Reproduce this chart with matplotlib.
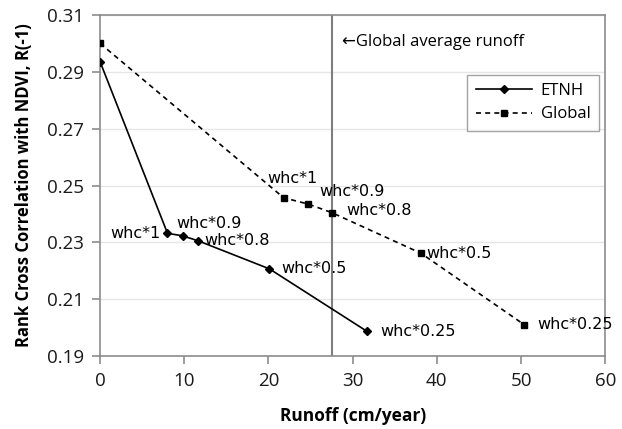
import matplotlib
matplotlib.use("Agg")
import matplotlib.pyplot as plt

# Runoff (cm/year) and rank cross correlation for each water-holding-capacity scaling
etnh_runoff = [0.0, 8.0, 9.8, 11.6, 20.1, 31.7]
etnh_corr = [0.2935, 0.2332, 0.2323, 0.2306, 0.2207, 0.1987]
etnh_labels = [None, "whc*1", "whc*0.9", "whc*0.8", "whc*0.5", "whc*0.25"]

global_runoff = [0.0, 21.8, 24.7, 27.5, 38.1, 50.4]
global_corr = [0.3000, 0.2457, 0.2435, 0.2405, 0.2262, 0.2010]
global_labels = [None, "whc*1", "whc*0.9", "whc*0.8", "whc*0.5", "whc*0.25"]

global_avg_runoff = 27.6

x_ticks = [0, 10, 20, 30, 40, 50, 60]
y_ticks = [0.19, 0.21, 0.23, 0.25, 0.27, 0.29, 0.31]

# label offsets in pixels relative to each point, and horizontal alignment
etnh_offsets = [None, (-7, 0, "right"), (-6, 12, "left"), (7, 0, "left"),
                (12, 0, "left"), (13, 0, "left")]
global_offsets = [None, (-16, 19, "left"), (11, 13, "left"), (15, 2, "left"),
                  (5, 0, "left"), (13, 0, "left")]

fam = ["Open Sans", "DejaVu Sans"]

fig = plt.figure(figsize=(6.22, 4.29), dpi=100)
ax = fig.add_axes([0.161, 0.170, 0.812, 0.795])

ax.set_xlim(0, 60)
ax.set_ylim(0.19, 0.31)
ax.set_xticks(x_ticks)
ax.set_yticks(y_ticks)
ax.set_xticklabels([str(t) for t in x_ticks], family=fam, fontsize=13.5)
ax.set_yticklabels([f"{t:.2f}" for t in y_ticks], family=fam, fontsize=13.5)
ax.yaxis.grid(True, color="#e6e6e6", linewidth=1)
ax.set_axisbelow(True)
for s in ax.spines.values():
    s.set_color("#8c8c8c")
    s.set_linewidth(1.2)
ax.tick_params(axis="both", direction="out", length=5.5, color="#8c8c8c", width=1.2,
               labelcolor="#1a1a1a")
ax.tick_params(axis="x", pad=6)
ax.tick_params(axis="y", pad=6)

ax.axvline(global_avg_runoff, color="#7f7f7f", linewidth=1.5, zorder=1)
ax.annotate("\u2190Global average runoff", xy=(global_avg_runoff, 0.3006),
            xytext=(10, 0), textcoords="offset pixels", va="center", ha="left",
            family=fam, fontsize=12)

ax.plot(etnh_runoff, etnh_corr, color="black", linewidth=1.2, marker="D",
        markersize=4, label="ETNH", zorder=3)
ax.plot(global_runoff, global_corr, color="black", linewidth=1.2, linestyle=(0, (3, 2.5)),
        marker="s", markersize=5, label="Global", zorder=3)

for xs, ys, labs, offs in [(etnh_runoff, etnh_corr, etnh_labels, etnh_offsets),
                           (global_runoff, global_corr, global_labels, global_offsets)]:
    for x, y, lab, off in zip(xs, ys, labs, offs):
        if lab is None:
            continue
        dx, dy, ha = off
        ax.annotate(lab, xy=(x, y), xytext=(dx, dy), textcoords="offset pixels",
                    ha=ha, va="center", fontsize=11.5, family="DejaVu Sans", zorder=4)

leg = ax.legend(loc="upper right", bbox_to_anchor=(1.004, 0.85), frameon=True,
                fancybox=False, edgecolor="#8c8c8c", handlelength=3.4,
                prop={"family": fam, "size": 12}, borderpad=0.5,
                labelspacing=0.45, handletextpad=0.5)
leg.get_frame().set_linewidth(1.0)

ax.set_xlabel("Runoff (cm/year)", family=fam, fontweight="bold", fontsize=12.5,
              labelpad=12)
ax.set_ylabel("Rank Cross Correlation with NDVI, R(-1)", family=fam,
              fontweight="bold", fontsize=12, labelpad=10)

fig.savefig("out.png", dpi=100)
